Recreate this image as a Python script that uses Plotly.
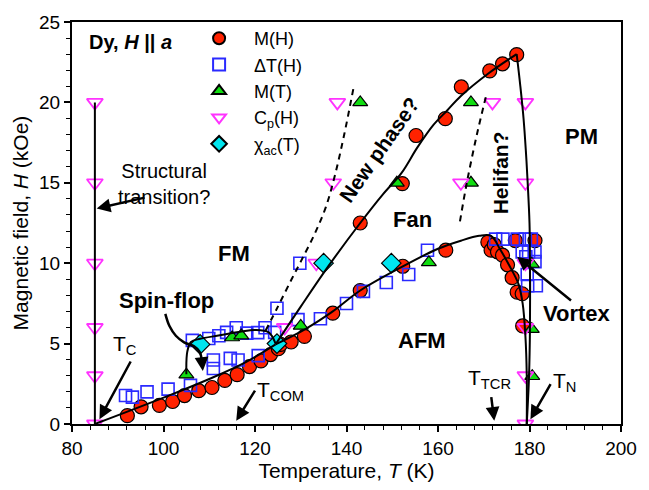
import plotly.graph_objects as go

# ---------------- data ----------------
# M(H) red circles
MH_T = [92.1, 95.1, 99.1, 102.0, 104.6, 107.7, 110.6, 113.4, 116.1, 118.8, 121.3, 123.4, 125.1, 125.6,
        127.9, 130.8, 137.0, 143.0, 152.3, 161.7,
        143.0, 152.2, 155.2, 161.6, 165.1, 171.3, 174.1, 177.2,
        170.9, 171.6, 172.3, 173.0, 174.1, 175.2, 176.2, 177.3, 178.4, 176.9, 181.2, 178.5]
MH_H = [0.52, 1.07, 1.16, 1.40, 1.77, 2.07, 2.27, 2.71, 3.07, 3.57, 3.92, 4.32, 4.68, 4.95,
        5.10, 5.45, 6.89, 8.30, 9.81, 10.81,
        12.50, 14.95, 17.94, 18.99, 20.96, 21.96, 22.40, 22.97,
        11.31, 10.81, 11.15, 10.71, 10.50, 9.90, 9.10, 8.20, 8.10, 11.41, 11.41, 6.10]

# Delta T(H) blue open squares
DT_T = [91.7, 93.2, 96.4, 101.0, 105.9, 110.9, 110.9, 114.6, 116.3, 120.7,
        106.3, 109.9, 112.1, 113.8, 115.9, 118.2, 120.6, 122.2, 124.3, 124.8,
        129.8, 129.4, 134.3, 140.0, 143.7, 148.7, 153.6, 157.7,
        172.6, 174.2, 177.3, 179.1, 180.4, 178.4, 179.8, 181.2, 179.2, 181.2, 179.5, 179.6, 181.5]
DT_H = [1.77, 1.67, 2.00, 2.17, 2.40, 3.98, 3.45, 4.08, 3.98, 4.25,
        5.20, 5.32, 5.49, 5.70, 5.99, 5.65, 5.68, 5.99, 5.70, 7.20,
        10.0, 6.49, 6.55, 7.49, 8.25, 8.80, 9.30, 10.81,
        11.5, 11.5, 11.5, 11.5, 11.5, 10.7, 10.7, 10.7, 10.4, 10.1, 9.3, 8.6, 8.6]

# M(T) green triangles
MT_T = [105.0, 115.0, 117.0, 130.0, 143.0, 151.0, 158.0, 167.2, 167.2, 180.5, 180.5, 180.6]
MT_H = [3.07, 5.38, 5.50, 6.10, 20.0, 15.0, 10.05, 20.0, 15.0, 9.95, 5.9, 2.97]

# Cp(H) magenta open down-triangles
CP_T = [85, 85, 85, 85, 85, 85, 179.1, 179.1, 179.1, 179.1, 179.1, 179.1,
        138.0, 137.1, 165.0, 171.9, 126.5, 133.4]
CP_H = [0, 3, 6, 10, 15, 20, 0, 3, 6, 10, 15, 20,
        20, 15, 15, 20, 6, 10]

# chi_ac(T) cyan diamonds
CHI_T = [108.0, 124.8, 135.0, 149.8]
CHI_H = [4.95, 5.0, 10.0, 10.0]

# ---------------- phase boundaries ----------------
STRUCT_T = [85, 85]
STRUCT_H = [0, 20]

TC_T = [85, 101, 110, 118, 124.5]
TC_H = [0, 1.75, 2.8, 3.85, 4.95]

AFM_T = [124.5, 131, 137, 143, 152.3, 160, 165, 169, 171.6, 173.5, 175.5, 177.6, 178.5, 179.1, 179.4, 179.4]
AFM_H = [4.95, 5.9, 7.0, 8.3, 9.8, 10.9, 11.4, 11.7, 11.7, 10.9, 9.9, 8.7, 7.5, 5.5, 3.0, 0]

FAN_T = [124.5, 130, 136, 143, 148, 152, 155.5, 159, 162, 165, 171, 177.2]
FAN_H = [4.95, 7.3, 9.8, 12.5, 14.3, 15.6, 17.2, 18.6, 19.5, 20.4, 21.8, 23.0]

PM_T = [177.2, 178.0, 178.7, 179.2, 179.6, 180.0, 180.1, 180.1, 179.9, 179.4]
PM_H = [23.0, 21.0, 19.0, 17.0, 15.0, 12.5, 10.0, 6.0, 3.0, 0]

SF_T = [105.0, 105.2, 106.0, 108.0, 112.0, 117.0, 120.0, 123.0, 124.5]
SF_H = [3.1, 4.5, 5.1, 5.3, 5.5, 5.75, 5.85, 5.7, 5.0]

NEW_T = [122.3, 125, 128, 130, 133, 135.5, 137.5, 139.5, 141.6]
NEW_H = [5.8, 7.3, 9.0, 10.1, 11.8, 13.5, 15.5, 18.0, 21.0]

HELI_T = [164.8, 166.3, 168.5, 170.6]
HELI_H = [12.6, 15.0, 18.0, 20.5]

SFARROW_T = [100.4, 101.3, 102.7, 104.5, 106.6, 107.9, 108.4]
SFARROW_H = [6.85, 6.09, 5.49, 5.08, 4.84, 4.48, 3.88]

FONT = "Liberation Sans, Arial, Helvetica, sans-serif"
GAP = "\u00a0\u00a0\u00a0"

fig = go.Figure()

fig.add_trace(go.Scatter(x=MH_T, y=MH_H, mode="markers", name=GAP + "M(H)",
                         marker=dict(symbol="circle", size=14, color="#ff2200",
                                     line=dict(color="black", width=1.2))))
fig.add_trace(go.Scatter(x=DT_T, y=DT_H, mode="markers", name=GAP + "ΔT(H)",
                         marker=dict(symbol="square-open", size=12, color="#2a2aff",
                                     line=dict(color="#2a2aff", width=1.6))))
fig.add_trace(go.Scatter(x=MT_T, y=MT_H, mode="markers", name=GAP + "M(T)",
                         marker=dict(symbol="triangle-up", size=13, color="#11dd11",
                                     line=dict(color="black", width=1.2))))
fig.add_trace(go.Scatter(x=CP_T, y=CP_H, mode="markers", name=GAP + "C<sub>p</sub>(H)",
                         marker=dict(symbol="triangle-down-open", size=14, color="#ff33ff",
                                     line=dict(color="#ff33ff", width=1.8))))
fig.add_trace(go.Scatter(x=CHI_T, y=CHI_H, mode="markers", name=GAP + "χ<sub>ac</sub>(T)",
                         marker=dict(symbol="diamond", size=15, color="#00e5ee",
                                     line=dict(color="black", width=1.2))))

def add_line(xs, ys, dash="solid", shape="spline"):
    fig.add_trace(go.Scatter(x=xs, y=ys, mode="lines", showlegend=False, hoverinfo="skip",
                             line=dict(color="black", width=2, dash=dash, shape=shape)))

add_line(STRUCT_T, STRUCT_H, shape="linear")
add_line(TC_T, TC_H)
add_line(AFM_T, AFM_H)
add_line(FAN_T, FAN_H)
add_line(PM_T, PM_H)
add_line(SF_T, SF_H)
add_line(NEW_T, NEW_H, dash="6px,5px")
add_line(HELI_T, HELI_H, dash="6px,5px")
fig.add_trace(go.Scatter(x=SFARROW_T, y=SFARROW_H, mode="lines", showlegend=False, hoverinfo="skip",
                         line=dict(color="black", width=2.5, shape="spline")))

def arrow(x, y, ax, ay):
    fig.add_annotation(x=x, y=y, ax=ax, ay=ay, xref="x", yref="y", axref="x", ayref="y",
                       text="", showarrow=True, arrowhead=2, arrowsize=1.1, arrowwidth=2.5,
                       arrowcolor="black")

arrow(85.4, 13.4, 96.2, 14.1)     # structural
arrow(86.0, 0.3, 93.0, 3.98)      # T_C
arrow(115.9, 0.2, 120.2, 2.17)    # T_COM
arrow(172.3, 0.2, 171.6, 1.77)    # T_TCR
arrow(180.2, 0.3, 184.8, 2.57)    # T_N
arrow(177.3, 10.4, 189.4, 7.6)    # Vortex
arrow(108.6, 3.3, 108.4, 3.9)     # spin-flop head

def label(x, y, text, size=22, bold=True, angle=0, xanchor="center"):
    t = f"<b>{text}</b>" if bold else text
    fig.add_annotation(x=x, y=y, xref="x", yref="y", text=t, showarrow=False,
                       textangle=angle, xanchor=xanchor,
                       font=dict(family=FONT, size=size, color="black"))

label(83.2, 23.75, "Dy, <i>H</i> || <i>a</i>", size=20, xanchor="left")
label(100.1, 14.95, "Structural<br>transition?", size=20, bold=False)
label(100.6, 7.7, "Spin-flop", size=22)
label(115.5, 10.6, "FM")
label(154.5, 12.7, "Fan")
label(156.6, 5.2, "AFM")
label(191.3, 17.9, "PM")
label(190.3, 6.9, "Vortex")
label(147.2, 17.06, "New phase?", size=21, angle=-55)
label(173.6, 15.6, "Helifan?", size=21, angle=-90)
label(91.6, 4.9, "T<sub>C</sub>", size=21, bold=False)
label(125.5, 2.05, "T<sub>COM</sub>", size=21, bold=False)
label(171.3, 2.8, "T<sub>TCR</sub>", size=21, bold=False)
label(187.6, 2.6, "T<sub>N</sub>", size=21, bold=False)

fig.update_layout(
    width=649, height=490,
    margin=dict(l=72, r=16, t=16, b=59),
    paper_bgcolor="white", plot_bgcolor="white",
    font=dict(family=FONT, size=19, color="black"),
    showlegend=True,
    legend=dict(x=0.2315, y=1.005, xanchor="left", yanchor="top",
                bgcolor="rgba(0,0,0,0)", font=dict(family=FONT, size=18),
                itemsizing="constant", tracegroupgap=0),
)
fig.update_xaxes(range=[80, 200], tickvals=[80, 100, 120, 140, 160, 180, 200],
                 ticks="outside", ticklen=6, tickwidth=1.5, tickcolor="black",
                 minor=dict(dtick=4, ticks="outside", ticklen=4, tickwidth=1, tickcolor="black"),
                 showline=True, linewidth=2, linecolor="black", mirror=True,
                 showgrid=False, zeroline=False,
                 title=dict(text="Temperature, <i>T</i> (K)", font=dict(size=21), standoff=5),
                 tickfont=dict(size=19))
fig.update_yaxes(range=[0, 25], tickvals=[0, 5, 10, 15, 20, 25],
                 ticks="outside", ticklen=6, tickwidth=1.5, tickcolor="black",
                 minor=dict(dtick=1, ticks="outside", ticklen=4, tickwidth=1, tickcolor="black"),
                 showline=True, linewidth=2, linecolor="black", mirror=True,
                 showgrid=False, zeroline=False,
                 title=dict(text="Magnetic field, <i>H</i> (kOe)", font=dict(size=21), standoff=5),
                 tickfont=dict(size=19))

fig.write_html("out.html")
